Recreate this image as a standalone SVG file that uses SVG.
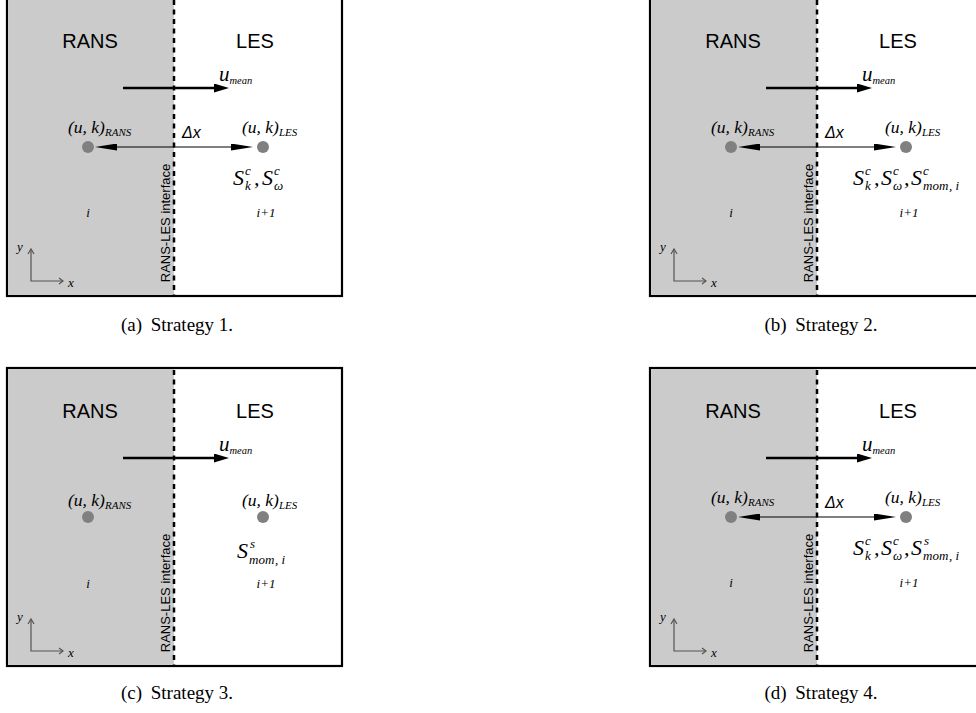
<svg xmlns="http://www.w3.org/2000/svg" width="976" height="713" viewBox="0 0 976 713">
<style>
.frame{fill:#ffffff;stroke:#000000;stroke-width:2.2}
.rans{fill:#cbcbcb;stroke:none}
.iface{stroke:#000000;stroke-width:2.5;stroke-dasharray:5 4.5;fill:none}
.big{font-family:"Liberation Sans",Arial,sans-serif;font-size:20px;fill:#000;text-anchor:middle}
.lab{font-family:"Liberation Sans",Arial,sans-serif;font-size:13px;fill:#000;text-anchor:middle}
.m{font-family:"Liberation Serif","Times New Roman",serif;font-style:italic;fill:#000}
.dx{font-family:"Liberation Sans",Arial,sans-serif;font-style:italic;font-size:16px;fill:#000}
.cap{font-family:"Liberation Serif","Times New Roman",serif;font-size:19px;fill:#000;text-anchor:middle}
.dot{fill:#808080}
.flow{stroke:#000;stroke-width:2.5;fill:none}
.dist{stroke:#000;stroke-width:1.2;fill:none}
.axis{stroke:#555;stroke-width:1.2;fill:none}
</style>
<defs>
<marker id="hThick" viewBox="0 0 15 9" refX="0" refY="4.5" markerWidth="15" markerHeight="9" markerUnits="userSpaceOnUse" orient="auto"><path d="M0,0 L15,4.5 L0,9 z" fill="#000"/></marker>
<marker id="hThin" viewBox="0 0 22 7" refX="0" refY="3.5" markerWidth="22" markerHeight="7" markerUnits="userSpaceOnUse" orient="auto-start-reverse"><path d="M0,0 L22,3.5 L0,7 z" fill="#000"/></marker>
</defs>

<!-- Panel (a) -->
<g id="panel-a">
  <rect class="frame" x="7" y="-2" width="335" height="298"/>
  <rect class="rans" x="8.1" y="-1" width="165.9" height="295.9"/>
  <line class="iface" x1="174" y1="0" x2="174" y2="295"/>
  <text class="big" x="90" y="48">RANS</text>
  <text class="big" x="255" y="48">LES</text>
  <text class="lab" transform="translate(170,223) rotate(-90)">RANS-LES interface</text>
  <g id="a-axes">
    <polyline class="axis" points="31,250 31,281 63,281"/>
    <polyline class="axis" points="28,254 31,249 34,254"/>
    <polyline class="axis" points="59,278 63,281 59,284"/>
    <text class="m" x="17" y="251" font-size="13">y</text>
    <text class="m" x="68" y="287" font-size="13">x</text>
  </g>
  <g id="a-connectors">
    <line class="flow" x1="123" y1="88" x2="214" y2="88" marker-end="url(#hThick)"/>
    <line class="dist" x1="117" y1="147" x2="231" y2="147" marker-start="url(#hThin)" marker-end="url(#hThin)"/>
  </g>
  <text class="m" x="219" y="81" font-size="21">u<tspan font-size="10.5" dy="3">mean</tspan></text>
  <text class="dx" x="182" y="138">Δx</text>
  <g id="a-rans-node">
    <circle class="dot" cx="88" cy="147" r="6"/>
    <text class="m" x="68" y="133" font-size="17.5">(u, k)<tspan font-size="11" dy="3">RANS</tspan></text>
    <text class="m" x="88" y="217" font-size="13" text-anchor="middle">i</text>
  </g>
  <g id="a-les-node">
    <circle class="dot" cx="263" cy="147" r="6"/>
    <text class="m" x="242" y="133" font-size="17.5">(u, k)<tspan font-size="11" dy="3">LES</tspan></text>
    <text class="m" font-size="22"><tspan x="233" y="185">S</tspan><tspan x="245" y="175" font-size="13">c</tspan><tspan x="245" y="190" font-size="13">k</tspan><tspan x="254" y="185">,</tspan><tspan x="262" y="185">S</tspan><tspan x="274" y="175" font-size="13">c</tspan><tspan x="274" y="190" font-size="13">ω</tspan></text>
    <text class="m" x="266" y="217" font-size="13" text-anchor="middle">i+1</text>
  </g>
</g>
<text class="cap" x="177" y="331">(a) <tspan dx="4">Strategy 1.</tspan></text>

<!-- Panel (b) -->
<g id="panel-b" transform="translate(643,0)">
  <rect class="frame" x="7" y="-2" width="335" height="298"/>
  <rect class="rans" x="8.1" y="-1" width="165.9" height="295.9"/>
  <line class="iface" x1="174" y1="0" x2="174" y2="295"/>
  <text class="big" x="90" y="48">RANS</text>
  <text class="big" x="255" y="48">LES</text>
  <text class="lab" transform="translate(170,223) rotate(-90)">RANS-LES interface</text>
  <g id="b-axes">
    <polyline class="axis" points="31,250 31,281 63,281"/>
    <polyline class="axis" points="28,254 31,249 34,254"/>
    <polyline class="axis" points="59,278 63,281 59,284"/>
    <text class="m" x="17" y="251" font-size="13">y</text>
    <text class="m" x="68" y="287" font-size="13">x</text>
  </g>
  <g id="b-connectors">
    <line class="flow" x1="123" y1="88" x2="214" y2="88" marker-end="url(#hThick)"/>
    <line class="dist" x1="117" y1="147" x2="231" y2="147" marker-start="url(#hThin)" marker-end="url(#hThin)"/>
  </g>
  <text class="m" x="219" y="81" font-size="21">u<tspan font-size="10.5" dy="3">mean</tspan></text>
  <text class="dx" x="182" y="138">Δx</text>
  <g id="b-rans-node">
    <circle class="dot" cx="88" cy="147" r="6"/>
    <text class="m" x="68" y="133" font-size="17.5">(u, k)<tspan font-size="11" dy="3">RANS</tspan></text>
    <text class="m" x="88" y="217" font-size="13" text-anchor="middle">i</text>
  </g>
  <g id="b-les-node">
    <circle class="dot" cx="263" cy="147" r="6"/>
    <text class="m" x="242" y="133" font-size="17.5">(u, k)<tspan font-size="11" dy="3">LES</tspan></text>
    <text class="m" font-size="22"><tspan x="210" y="185">S</tspan><tspan x="222" y="175" font-size="13">c</tspan><tspan x="222" y="190" font-size="13">k</tspan><tspan x="231" y="185">,</tspan><tspan x="238" y="185">S</tspan><tspan x="250" y="175" font-size="13">c</tspan><tspan x="250" y="190" font-size="13">ω</tspan><tspan x="261" y="185">,</tspan><tspan x="268" y="185">S</tspan><tspan x="280" y="175" font-size="13">c</tspan><tspan x="280" y="190" font-size="13">mom</tspan><tspan x="306" y="190" font-size="13">, i</tspan></text>
    <text class="m" x="266" y="217" font-size="13" text-anchor="middle">i+1</text>
  </g>
</g>
<text class="cap" x="821" y="331">(b) <tspan dx="4">Strategy 2.</tspan></text>

<!-- Panel (c) -->
<g id="panel-c" transform="translate(0,370)">
  <rect class="frame" x="7" y="-2" width="335" height="298"/>
  <rect class="rans" x="8.1" y="-1" width="165.9" height="295.9"/>
  <line class="iface" x1="174" y1="0" x2="174" y2="295"/>
  <text class="big" x="90" y="48">RANS</text>
  <text class="big" x="255" y="48">LES</text>
  <text class="lab" transform="translate(170,223) rotate(-90)">RANS-LES interface</text>
  <g id="c-axes">
    <polyline class="axis" points="31,250 31,281 63,281"/>
    <polyline class="axis" points="28,254 31,249 34,254"/>
    <polyline class="axis" points="59,278 63,281 59,284"/>
    <text class="m" x="17" y="251" font-size="13">y</text>
    <text class="m" x="68" y="287" font-size="13">x</text>
  </g>
  <g id="c-connectors">
    <line class="flow" x1="123" y1="88" x2="214" y2="88" marker-end="url(#hThick)"/>
  </g>
  <text class="m" x="219" y="81" font-size="21">u<tspan font-size="10.5" dy="3">mean</tspan></text>
  <g id="c-rans-node">
    <circle class="dot" cx="88" cy="147" r="6"/>
    <text class="m" x="68" y="136" font-size="17.5">(u, k)<tspan font-size="11" dy="3">RANS</tspan></text>
    <text class="m" x="88" y="218" font-size="13" text-anchor="middle">i</text>
  </g>
  <g id="c-les-node">
    <circle class="dot" cx="263" cy="147" r="6"/>
    <text class="m" x="242" y="136" font-size="17.5">(u, k)<tspan font-size="11" dy="3">LES</tspan></text>
    <text class="m" font-size="22"><tspan x="237" y="188">S</tspan><tspan x="250" y="178" font-size="13">s</tspan><tspan x="249" y="194" font-size="13">mom</tspan><tspan x="275" y="194" font-size="13">, i</tspan></text>
    <text class="m" x="266" y="218" font-size="13" text-anchor="middle">i+1</text>
  </g>
</g>
<text class="cap" x="177" y="699">(c) <tspan dx="4">Strategy 3.</tspan></text>

<!-- Panel (d) -->
<g id="panel-d" transform="translate(643,370)">
  <rect class="frame" x="7" y="-2" width="335" height="298"/>
  <rect class="rans" x="8.1" y="-1" width="165.9" height="295.9"/>
  <line class="iface" x1="174" y1="0" x2="174" y2="295"/>
  <text class="big" x="90" y="48">RANS</text>
  <text class="big" x="255" y="48">LES</text>
  <text class="lab" transform="translate(170,223) rotate(-90)">RANS-LES interface</text>
  <g id="d-axes">
    <polyline class="axis" points="31,250 31,281 63,281"/>
    <polyline class="axis" points="28,254 31,249 34,254"/>
    <polyline class="axis" points="59,278 63,281 59,284"/>
    <text class="m" x="17" y="251" font-size="13">y</text>
    <text class="m" x="68" y="287" font-size="13">x</text>
  </g>
  <g id="d-connectors">
    <line class="flow" x1="123" y1="88" x2="214" y2="88" marker-end="url(#hThick)"/>
    <line class="dist" x1="117" y1="147" x2="231" y2="147" marker-start="url(#hThin)" marker-end="url(#hThin)"/>
  </g>
  <text class="m" x="219" y="81" font-size="21">u<tspan font-size="10.5" dy="3">mean</tspan></text>
  <text class="dx" x="182" y="138">Δx</text>
  <g id="d-rans-node">
    <circle class="dot" cx="88" cy="147" r="6"/>
    <text class="m" x="68" y="133" font-size="17.5">(u, k)<tspan font-size="11" dy="3">RANS</tspan></text>
    <text class="m" x="88" y="217" font-size="13" text-anchor="middle">i</text>
  </g>
  <g id="d-les-node">
    <circle class="dot" cx="263" cy="147" r="6"/>
    <text class="m" x="242" y="133" font-size="17.5">(u, k)<tspan font-size="11" dy="3">LES</tspan></text>
    <text class="m" font-size="22"><tspan x="210" y="185">S</tspan><tspan x="222" y="175" font-size="13">c</tspan><tspan x="222" y="190" font-size="13">k</tspan><tspan x="231" y="185">,</tspan><tspan x="238" y="185">S</tspan><tspan x="250" y="175" font-size="13">c</tspan><tspan x="250" y="190" font-size="13">ω</tspan><tspan x="261" y="185">,</tspan><tspan x="268" y="185">S</tspan><tspan x="281" y="175" font-size="13">s</tspan><tspan x="280" y="190" font-size="13">mom</tspan><tspan x="306" y="190" font-size="13">, i</tspan></text>
    <text class="m" x="266" y="217" font-size="13" text-anchor="middle">i+1</text>
  </g>
</g>
<text class="cap" x="821" y="699">(d) <tspan dx="4">Strategy 4.</tspan></text>
</svg>
